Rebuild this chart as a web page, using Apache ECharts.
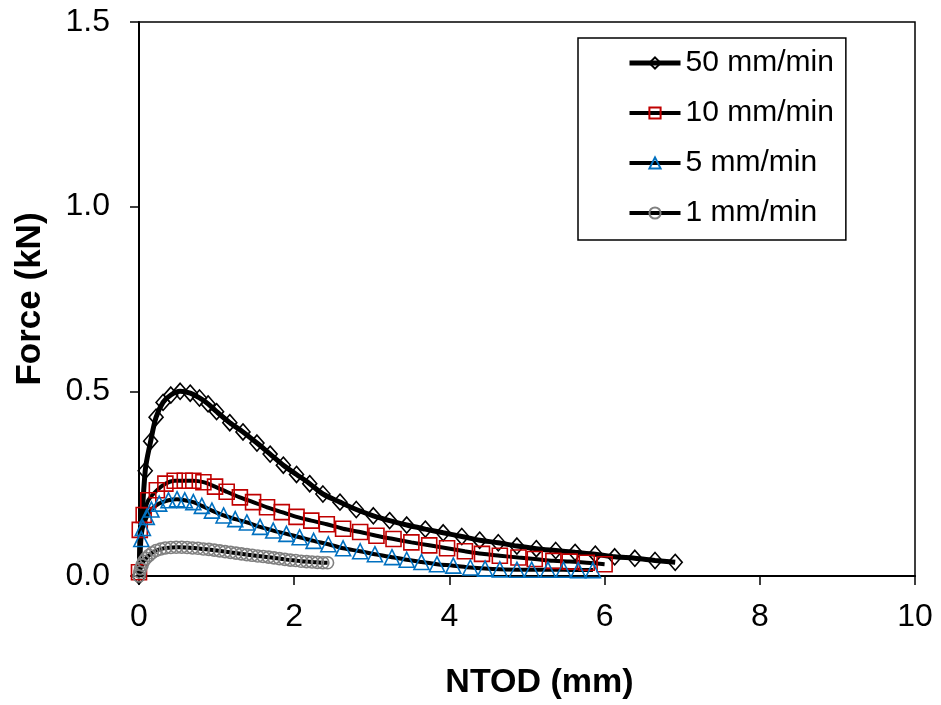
<!DOCTYPE html>
<html>
<head>
<meta charset="utf-8">
<script src="https://cdn.jsdelivr.net/npm/echarts@6/dist/echarts.min.js"></script>
<style>html,body{margin:0;padding:0;background:#fff}#c{width:941px;height:705px}</style>
</head>
<body>
<div id="c"></div>
<script>
const seriesNames = ['50 mm/min', '10 mm/min', '5 mm/min', '1 mm/min'];
const xTicks = [0, 2, 4, 6, 8, 10];
const yTicks = [0.0, 0.5, 1.0, 1.5];

const rate50 = [[0,0],[0.08,0.285],[0.15,0.365],[0.22,0.43],[0.31,0.47],[0.41,0.49],[0.53,0.50],[0.66,0.495],[0.78,0.482],[0.89,0.466],[1.0,0.445],[1.17,0.415],[1.34,0.39],[1.52,0.36],[1.69,0.33],[1.86,0.30],[2.03,0.275],[2.2,0.25],[2.37,0.222],[2.59,0.20],[2.8,0.18],[3.02,0.163],[3.23,0.15],[3.45,0.138],[3.69,0.127],[3.92,0.117],[4.16,0.107],[4.39,0.097],[4.63,0.09],[4.87,0.081],[5.12,0.074],[5.37,0.069],[5.62,0.064],[5.88,0.059],[6.13,0.052],[6.39,0.048],[6.65,0.042],[6.91,0.037]];
const rate10 = [[0,0.01],[0.01,0.125],[0.06,0.165],[0.12,0.205],[0.23,0.232],[0.34,0.25],[0.46,0.258],[0.59,0.258],[0.7,0.258],[0.83,0.254],[0.98,0.242],[1.13,0.228],[1.3,0.213],[1.47,0.2],[1.65,0.186],[1.84,0.173],[2.03,0.16],[2.22,0.15],[2.42,0.14],[2.63,0.128],[2.85,0.119],[3.06,0.109],[3.28,0.1],[3.51,0.091],[3.74,0.083],[3.97,0.075],[4.2,0.067],[4.42,0.06],[4.65,0.055],[4.89,0.05],[5.1,0.046],[5.34,0.041],[5.55,0.039],[5.77,0.036],[6.0,0.032]];
const rate5 = [[0.03,0.1],[0.05,0.13],[0.1,0.16],[0.16,0.18],[0.26,0.196],[0.38,0.205],[0.49,0.208],[0.59,0.205],[0.7,0.2],[0.81,0.19],[0.94,0.177],[1.09,0.164],[1.24,0.154],[1.39,0.145],[1.56,0.133],[1.73,0.123],[1.9,0.114],[2.07,0.105],[2.25,0.095],[2.44,0.086],[2.63,0.075],[2.85,0.067],[3.04,0.059],[3.26,0.051],[3.45,0.044],[3.64,0.038],[3.84,0.032],[4.05,0.028],[4.27,0.023],[4.46,0.02],[4.65,0.018],[4.87,0.017],[5.06,0.017],[5.27,0.017],[5.47,0.017],[5.66,0.016],[5.85,0.016]];
const rate1 = [[0,0],[0.01,0.01],[0.02,0.02],[0.04,0.03],[0.06,0.04],[0.09,0.048],[0.13,0.056],[0.17,0.063],[0.22,0.069],[0.28,0.073],[0.34,0.076],[0.41,0.077],[0.48,0.078],[0.55,0.078],[0.62,0.077],[0.69,0.076],[0.76,0.075],[0.83,0.073],[0.9,0.072],[0.97,0.07],[1.04,0.068],[1.11,0.066],[1.18,0.064],[1.25,0.062],[1.32,0.06],[1.39,0.058],[1.46,0.056],[1.53,0.054],[1.6,0.053],[1.67,0.051],[1.74,0.049],[1.81,0.047],[1.88,0.045],[1.95,0.043],[2.02,0.042],[2.09,0.04],[2.16,0.039],[2.23,0.038],[2.30,0.037],[2.37,0.036],[2.43,0.036]];

const font = 'Liberation Sans, Arial, sans-serif';
const chart = echarts.init(document.getElementById('c'));

function mk(name, data, symbol, size, color, lw) {
  return {
    name: name, type: 'line', data: data, symbol: symbol, symbolSize: size,
    showAllSymbol: true, smooth: 0.3,
    lineStyle: {color: '#000', width: lw},
    itemStyle: {color: 'rgba(255,255,255,0)', borderColor: color, borderWidth: 1.6},
    emphasis: {disabled: true}, animation: false
  };
}

chart.setOption({
  animation: false,
  grid: {left: 139, right: 26, top: 22, bottom: 128, show: true, borderColor: '#000', borderWidth: 1.5, backgroundColor: 'transparent'},
  xAxis: {
    type: 'value', min: 0, max: 10, interval: 2,
    name: 'NTOD (mm)', nameLocation: 'middle', nameGap: 90,
    nameTextStyle: {fontFamily: font, fontSize: 34, fontWeight: 'bold', color: '#000', padding: [0, 0, 0, 25]},
    axisLine: {show: true, onZero: false, lineStyle: {color: '#000', width: 2}},
    axisTick: {show: true, inside: false, length: 9, lineStyle: {color: '#000', width: 1.5}},
    axisLabel: {fontFamily: font, fontSize: 32, color: '#000', margin: 25,
      formatter: v => xTicks.includes(v) ? String(v) : ''},
    splitLine: {show: false}
  },
  yAxis: {
    type: 'value', min: 0, max: 1.5, interval: 0.5,
    name: 'Force (kN)', nameLocation: 'middle', nameGap: 91,
    nameTextStyle: {fontFamily: font, fontSize: 35, fontWeight: 'bold', color: '#000'},
    axisLine: {show: true, lineStyle: {color: '#000', width: 2}},
    axisTick: {show: true, inside: false, length: 9, lineStyle: {color: '#000', width: 1.5}},
    axisLabel: {fontFamily: font, fontSize: 32, color: '#000', margin: 29,
      formatter: v => { const t = yTicks.find(k => Math.abs(k - v) < 1e-9); return t === undefined ? '' : t.toFixed(1); }},
    splitLine: {show: false}
  },
  legend: {
    orient: 'vertical', left: 578, top: 38,
    padding: [10, 12, 12, 49], itemGap: 20, itemWidth: 51, itemHeight: 14,
    borderColor: '#000', borderWidth: 1.5,
    textStyle: {fontFamily: font, fontSize: 30, color: '#000'},
    data: [
      {name: seriesNames[0], lineStyle: {width: 5}},
      {name: seriesNames[1], lineStyle: {width: 4}},
      {name: seriesNames[2], lineStyle: {width: 4}},
      {name: seriesNames[3], lineStyle: {width: 4}}
    ]
  },
  series: [
    mk(seriesNames[0], rate50, 'diamond', [14, 16], '#000000', 5),
    mk(seriesNames[1], rate10, 'rect', 15, '#C00000', 4),
    mk(seriesNames[2], rate5, 'triangle', 15, '#0070C0', 4),
    mk(seriesNames[3], rate1, 'circle', 12, '#808080', 4)
  ]
});
</script>
</body>
</html>
